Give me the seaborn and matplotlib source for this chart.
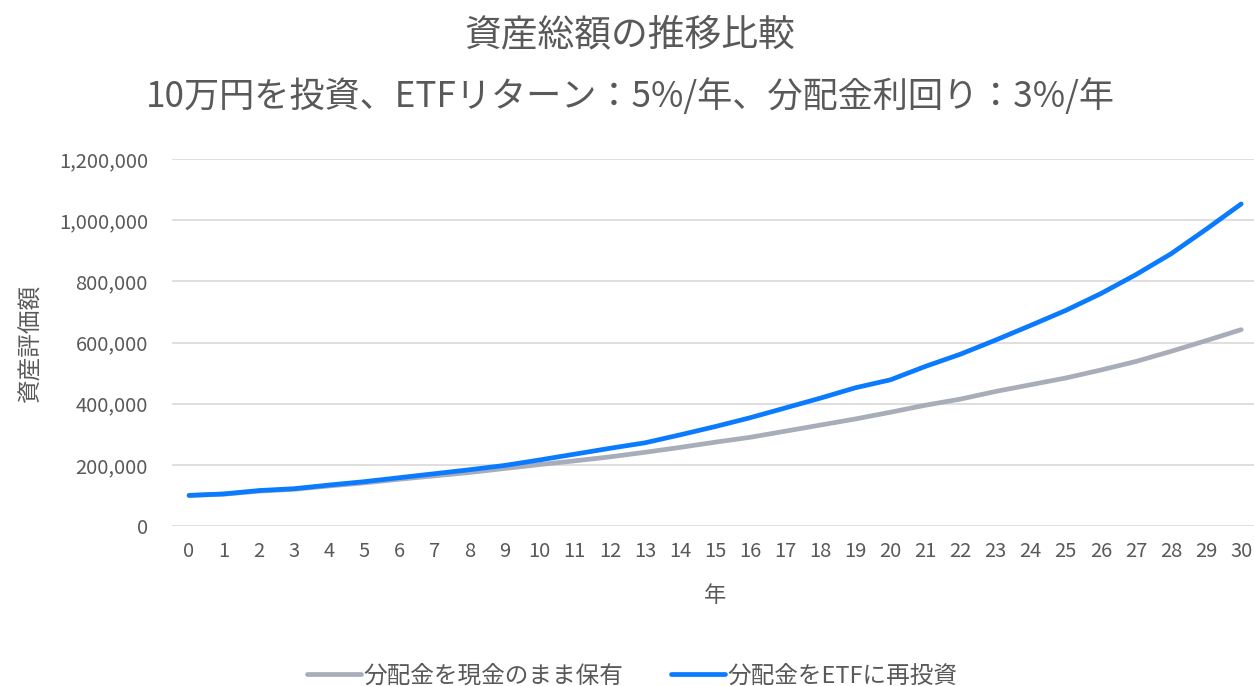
import matplotlib
matplotlib.use("Agg")
import matplotlib.pyplot as plt
import seaborn as sns
import pandas as pd
from matplotlib.ticker import FuncFormatter
from matplotlib.lines import Line2D

years = list(range(0, 31))
cash_hold = [100000, 104000, 114000, 120000, 131000, 141000, 153000, 164000, 175000, 188000,
             201000, 213000, 226000, 241000, 257000, 274000, 290000, 310000, 330000, 350000,
             372000, 395000, 415000, 440000, 462000, 484000, 510000, 538000, 571000, 606000,
             642000]
reinvest = [100000, 105000, 116000, 122000, 134000, 145000, 158000, 171000, 184000, 198000,
            216000, 235000, 254000, 272000, 298000, 325000, 354000, 386000, 418000, 452000,
            478000, 522000, 562000, 608000, 656000, 705000, 760000, 822000, 890000, 970000,
            1053000]
series_names = ["分配金を現金のまま保有", "分配金をETFに再投資"]
colors = ["#A8ADBA", "#0A7BFF"]
title1 = "資産総額の推移比較"
title2 = "10万円を投資、ETFリターン：5%/年、分配金利回り：3%/年"
xlabel = "年"
ylabel = "資産評価額"
yticks = [0, 200000, 400000, 600000, 800000, 1000000, 1200000]

df = pd.DataFrame({
    "年": years * 2,
    "値": cash_hold + reinvest,
    "系列": [series_names[0]] * len(years) + [series_names[1]] * len(years),
})

sns.set_theme(style="white")
plt.rcParams["font.family"] = ["Noto Sans CJK JP", "DejaVu Sans"]
txt = "#595959"

fig = plt.figure(figsize=(12.54, 6.86), dpi=100)
ax = fig.add_axes([171.5 / 1254, (686 - 526) / 686, (1258.7 - 171.5) / 1254, 367 / 686])

sns.lineplot(data=df, x="年", y="値", hue="系列", palette=colors, hue_order=series_names,
             linewidth=3.4, ax=ax, legend=False)

ax.set_xlim(-0.5, 30.5)
ax.set_ylim(0, 1200000)
ax.set_xticks(years)
ax.set_xticklabels([str(y) for y in years])
ax.set_yticks(yticks)
ax.yaxis.set_major_formatter(FuncFormatter(lambda v, p: f"{int(v):,}"))
ax.grid(axis="y", color="#D9D9D9", linewidth=1.2)
ax.grid(axis="x", visible=False)
for s in ax.spines.values():
    s.set_visible(False)
ax.tick_params(axis="both", length=0, labelsize=14.5, colors=txt)
ax.tick_params(axis="y", pad=17)
ax.tick_params(axis="x", pad=11)
ax.set_xlabel(xlabel, fontsize=16, color=txt, labelpad=16)
ax.set_ylabel(ylabel, fontsize=17, color=txt, labelpad=12)

fig.text(630 / 1254, 1 - 35 / 686, title1, ha="center", va="center", fontsize=26.5, color=txt)
fig.text(630 / 1254, 1 - 97 / 686, title2, ha="center", va="center", fontsize=25.3, color=txt)

handles = [Line2D([0], [0], color=c, linewidth=3.4) for c in colors]
leg = fig.legend(handles, series_names, loc="center", bbox_to_anchor=(632 / 1254, 1 - 676 / 686),
                 ncol=2, frameon=False, fontsize=17, handlelength=2.3, handletextpad=0.1,
                 columnspacing=2.0)
for t in leg.get_texts():
    t.set_color(txt)

fig.savefig("out.png", dpi=100)
